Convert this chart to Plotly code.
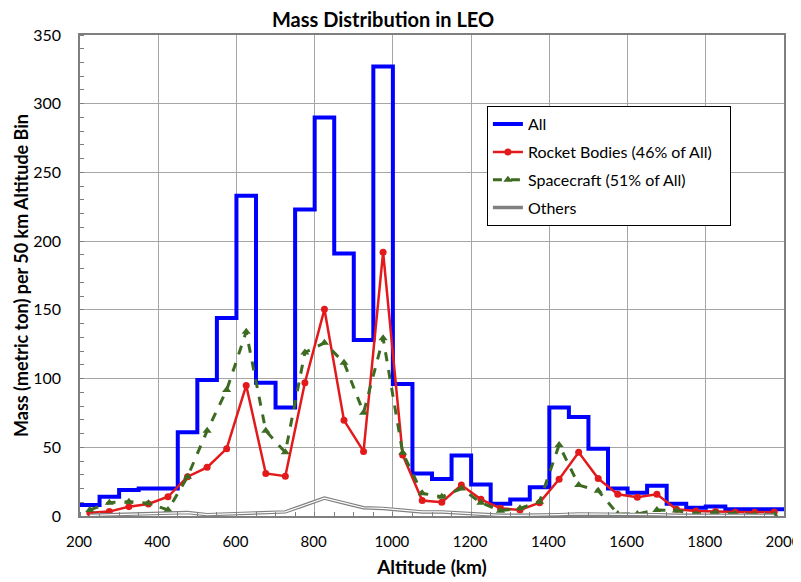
import plotly.graph_objects as go

# Bin edges (km) and bin centers
bin_edges = list(range(200, 2001, 50))
bin_centers = list(range(225, 2000, 50))

all_mass = [8, 14, 19, 20, 20, 61, 99, 144, 233, 97, 79, 223, 290, 191, 128, 327,
            96, 31, 27, 44, 23, 9, 12, 21, 79, 72, 49, 20, 17, 22, 9, 6, 7, 5, 5, 5]

rocket_bodies = [2.4, 3.2, 6.8, 8.7, 14, 28.6, 35.4, 49, 95, 31, 29, 97, 150.4, 69.6, 47, 192,
                 44.4, 11.2, 10, 22.5, 12.1, 5.6, 4.4, 9.7, 26.7, 46.3, 27.2, 15.8, 13.6, 15.8,
                 4.9, 3.6, 3.2, 2.7, 2.7, 3]

spacecraft = [4.4, 9.7, 10.4, 9.2, 4.4, 28.6, 62, 91.7, 134, 62, 46.3, 119, 126, 111.6, 75.2, 129.3,
              46, 16.5, 14, 20, 9.7, 3.9, 5.6, 10.4, 51.7, 22.5, 18.4, 1.5, 1.5, 4.4,
              4, 1.5, 2.5, 1.5, 1, 1]

others = [0.5, 1, 1, 1.5, 2, 2.5, 1, 1.5, 2.5, 3, 3, 8, 13, 9.5, 6, 5.5,
          4, 3, 3, 2, 1, 0.5, 0.5, 0.5, 1, 1.5, 1.5, 1, 1, 1,
          0.5, 0.5, 0.5, 0.5, 0.5, 0.5]

x_ticks = list(range(200, 2001, 200))
y_ticks = list(range(0, 351, 50))

FONT = "Lato, 'Open Sans', sans-serif"
PAD = "\u00a0\u00a0\u00a0"

fig = go.Figure()

fig.add_trace(go.Scatter(
    x=bin_edges, y=all_mass + [all_mass[-1]],
    mode="lines", line=dict(color="#0000ff", width=4, shape="hv"),
    name="All", legendgroup="all"))

fig.add_trace(go.Scatter(
    x=bin_centers, y=rocket_bodies,
    mode="lines+markers", line=dict(color="#e31a1c", width=2.5),
    marker=dict(symbol="circle", size=7, color="#e31a1c"),
    name="Rocket Bodies (46% of All)" + PAD, legendgroup="rb"))

fig.add_trace(go.Scatter(
    x=bin_centers, y=spacecraft,
    mode="lines+markers", line=dict(color="#3d6b21", width=3, dash="dash"),
    marker=dict(symbol="triangle-up", size=8, color="#3d6b21"),
    name="Spacecraft (51% of All)", legendgroup="sc"))

fig.add_trace(go.Scatter(
    x=bin_centers, y=others,
    mode="lines", line=dict(color="#808080", width=3.5),
    name="Others", legendgroup="oth"))
fig.add_trace(go.Scatter(
    x=bin_centers, y=others,
    mode="lines", line=dict(color="#ffffff", width=1.2),
    name="Others", legendgroup="oth", showlegend=False, hoverinfo="skip"))

# the page body has an 8px margin, so the figure is sized/offset to compensate
fig.update_layout(
    width=793, height=574,
    margin=dict(l=72, r=17, t=27, b=66),
    paper_bgcolor="white", plot_bgcolor="white",
    font=dict(family=FONT, size=16, color="black"),
    title=dict(text="<b>Mass Distribution in LEO</b>", x=0.473, xref="container", xanchor="center",
               y=0.979, yref="container", yanchor="middle", font=dict(size=20, family=FONT)),
    showlegend=True,
    legend=dict(x=0.578, y=0.852, xanchor="left", yanchor="top",
                bgcolor="white", bordercolor="black", borderwidth=1,
                font=dict(size=16, family=FONT), tracegroupgap=4),
    xaxis=dict(range=[200, 2000], tickvals=x_ticks, ticktext=[str(v) for v in x_ticks],
               showgrid=True, gridcolor="#a6a6a6", gridwidth=1,
               showline=True, linecolor="#7f7f7f", linewidth=1.5, mirror=True,
               ticks="", ticklabelstandoff=11, ticklabeloverflow="allow", automargin=False,
               ticklabelshift=-1,
               tickfont=dict(size=15),
               minor=dict(dtick=50, ticks="inside", ticklen=4, tickcolor="#7f7f7f", showgrid=False),
               title=dict(text="<b>Altitude (km)</b>", font=dict(size=19), standoff=12),
               zeroline=False),
    yaxis=dict(range=[0, 350], tickvals=y_ticks, ticktext=[str(v) for v in y_ticks],
               showgrid=True, gridcolor="#a6a6a6", gridwidth=1,
               showline=True, linecolor="#7f7f7f", linewidth=1.5, mirror=True,
               ticks="", ticklabelstandoff=14, ticklabeloverflow="allow", automargin=False,
               tickfont=dict(size=16),
               minor=dict(dtick=10, ticks="inside", ticklen=4, tickcolor="#7f7f7f", showgrid=False),
               title=dict(text="<b>Mass (metric ton) per 50 km Altitude Bin</b>", font=dict(size=18), standoff=0),
               zeroline=False),
)

fig.write_html("out.html")
